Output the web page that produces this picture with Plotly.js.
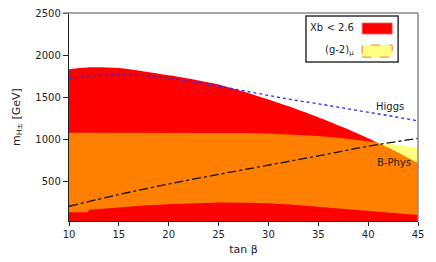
<!DOCTYPE html>
<html>
<head>
<meta charset="utf-8">
<script src="https://cdn.plot.ly/plotly-3.0.1.min.js"></script>
<style>html,body{margin:0;padding:0;background:#fff;}#chart{width:436px;height:262px;}</style>
</head>
<body>
<div id="chart"></div>
<script>
// tan beta grid
const tanb = [10, 11, 11.9, 12, 13, 15, 17.5, 20, 22.5, 25, 27.5, 30, 32.5, 35, 37.5, 40, 41.3, 42.5, 45];
// Xb < 2.6 upper boundary (red region)
const xbTop = [1830, 1845, 1852, 1853, 1855, 1845, 1805, 1760, 1710, 1650, 1565, 1470, 1370, 1260, 1140, 1010, 937, 870, 715];
// (g-2)mu region lower / upper boundary
const gLow  = [130, 130, 130, 160, 170, 185, 210, 225, 238, 245, 243, 235, 218, 195, 172, 148, 136, 122, 95];
const gHigh = [1075, 1075, 1075, 1075, 1075, 1075, 1077, 1077, 1076, 1075, 1072, 1067, 1055, 1036, 1010, 976, 955, 935, 896];
// Higgs constraint (blue dotted)
const higgsX = [10, 12.5, 15, 17.5, 20, 22.5, 25, 27.5, 30, 32.5, 35, 37.5, 40, 42.5, 45];
const higgsY = [1720, 1755, 1765, 1755, 1725, 1680, 1630, 1575, 1520, 1465, 1420, 1370, 1320, 1270, 1216];
// B-physics constraint (black dash-dot)
const bphysX = [10, 15, 20, 25, 30, 35, 40, 45];
const bphysY = [200, 340, 465, 580, 690, 800, 915, 1008];

const xTicks = [10, 15, 20, 25, 30, 35, 40, 45];
const yTicks = [500, 1000, 1500, 2000, 2500];
const legendLabels = ['Xb &lt; 2.6', '(g-2)<sub>μ</sub>'];
const curveLabels = ['Higgs', 'B-Phys'];

const font = 'DejaVu Sans, Verdana, sans-serif';

const traces = [
  {x: tanb, y: xbTop, mode: 'lines', line: {width: 0, color: '#ff0000', shape: 'spline', smoothing: 0.6}, fill: 'tozeroy', fillcolor: '#ff0000', hoverinfo: 'skip'},
  {x: tanb, y: gLow, mode: 'lines', line: {width: 0, color: 'rgba(0,0,0,0)'}, hoverinfo: 'skip'},
  {x: tanb, y: gHigh, mode: 'lines', line: {width: 0, color: 'rgba(0,0,0,0)'}, fill: 'tonexty', fillcolor: 'rgba(255,255,0,0.5)', hoverinfo: 'skip'},
  {x: higgsX, y: higgsY, mode: 'lines', line: {color: '#2a2aff', width: 1.3, dash: 'dot', shape: 'spline'}},
  {x: bphysX, y: bphysY, mode: 'lines', line: {color: '#111', width: 1.3, dash: 'dashdot', shape: 'spline'}}
];

const layout = {
  width: 436, height: 262,
  margin: {l: 69, r: 18, t: 13, b: 41},
  paper_bgcolor: '#fff', plot_bgcolor: '#fff',
  showlegend: false, hovermode: false,
  font: {family: font, size: 10, color: '#222'},
  xaxis: {
    range: [10, 45], tickvals: xTicks, ticks: 'outside', ticklen: 4, tickcolor: '#222',
    showline: true, linecolor: '#222', linewidth: 1.2, showgrid: false, zeroline: false,
    tickfont: {family: font, size: 10, color: '#222'},
    title: {text: 'tan β', font: {family: font, size: 11, color: '#222'}, standoff: 6}
  },
  yaxis: {
    range: [25, 2500], tickvals: yTicks, ticks: 'outside', ticklen: 5, tickcolor: '#222',
    showline: true, linecolor: '#222', linewidth: 1.2, showgrid: false, zeroline: false,
    tickfont: {family: font, size: 10, color: '#222'},
    title: {text: 'm<sub>H±</sub> [GeV]', font: {family: font, size: 11, color: '#222'}, standoff: 12}
  },
  shapes: [
    {type: 'line', xref: 'paper', yref: 'paper', x0: -0.018, x1: 1, y0: 1, y1: 1, line: {color: '#888', width: 1.5}},
    {type: 'line', xref: 'paper', yref: 'paper', x0: 1, x1: 1, y0: 0, y1: 1, line: {color: '#888', width: 1.5}},
    {type: 'rect', xref: 'paper', yref: 'paper', x0: 0.679, x1: 0.943, y0: 0.764, y1: 0.986, fillcolor: '#fff', line: {color: '#333', width: 1.5}},
    {type: 'rect', xref: 'paper', yref: 'paper', x0: 0.840, x1: 0.926, y0: 0.899, y1: 0.952, fillcolor: '#ff0000', line: {color: '#ff6060', width: 0.8}},
    {type: 'rect', xref: 'paper', yref: 'paper', x0: 0.840, x1: 0.926, y0: 0.788, y1: 0.846, fillcolor: '#ffff80', line: {color: '#ff7040', width: 1, dash: 'dash'}}
  ],
  annotations: [
    {xref: 'paper', yref: 'paper', x: 0.822, y: 0.928, xanchor: 'right', yanchor: 'middle', text: legendLabels[0], showarrow: false, font: {family: font, size: 10, color: '#222'}},
    {xref: 'paper', yref: 'paper', x: 0.822, y: 0.818, xanchor: 'right', yanchor: 'middle', text: legendLabels[1], showarrow: false, font: {family: font, size: 10, color: '#222'}},
    {x: 42.2, y: 1382, text: curveLabels[0], showarrow: false, font: {family: font, size: 10, color: '#222'}},
    {x: 42.6, y: 727, text: curveLabels[1], showarrow: false, font: {family: font, size: 10, color: '#222'}}
  ]
};

Plotly.newPlot('chart', traces, layout, {displayModeBar: false, staticPlot: true});
</script>
</body>
</html>
